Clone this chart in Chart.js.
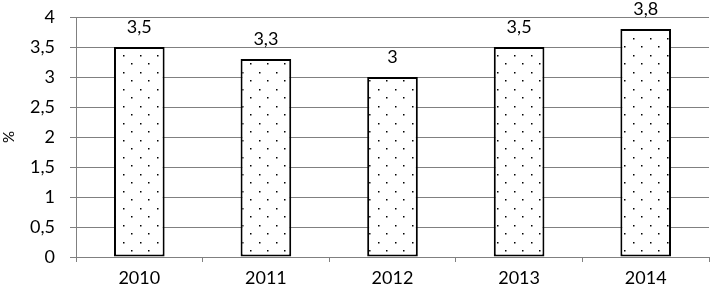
<!DOCTYPE html>
<html>
<head>
<meta charset="utf-8">
<script src="https://cdn.jsdelivr.net/npm/chart.js@4"></script>
<style>
  html, body { margin: 0; padding: 0; background: #fff; }
  #wrap { width: 711px; height: 292px; }
</style>
</head>
<body>
<div id="wrap"><canvas id="myChart"></canvas></div>
<script>
const years = ['2010', '2011', '2012', '2013', '2014'];
const values = [3.5, 3.3, 3.0, 3.5, 3.8];
const yTicks = [0, 0.5, 1, 1.5, 2, 2.5, 3, 3.5, 4];

const fmt = (v) => String(v).replace('.', ',');
const fontFam = 'Lato, "Open Sans", sans-serif';

// dotted fill like the original
const makeDots = () => {
    let c = document.createElement('canvas');
    c.width = 17;
    c.height = 17;
    let ctx = c.getContext('2d');
    ctx.fillStyle = '#fff';
    ctx.fillRect(0, 0, 17, 17);
    ctx.fillStyle = '#000';
    ctx.fillRect(4, 4, 1.5, 1.5);
    ctx.fillRect(12, 12, 1.5, 1.5);
    return ctx.createPattern(c, 'repeat');
}

const labelPlugin = {
    id: 'barLabels',
    afterDatasetsDraw(chart) {
        let ctx = chart.ctx;
        let meta = chart.getDatasetMeta(0);
        ctx.save();
        ctx.font = '18px ' + fontFam;
        ctx.fillStyle = '#000';
        ctx.textAlign = 'center';
        ctx.textBaseline = 'alphabetic';
        meta.data.forEach((bar, i) => {
            ctx.fillText(fmt(values[i]), bar.x, bar.y - 14);
        });
        ctx.restore();
    }
};

document.addEventListener("DOMContentLoaded", function () {
    let canvas = document.getElementById('myChart');
    new Chart(canvas, {
        type: 'bar',
        data: {
            labels: years,
            datasets: [{
                data: values,
                backgroundColor: makeDots(),
                borderColor: '#000',
                borderWidth: 2,
                borderSkipped: false,
                barPercentage: 0.4,
                categoryPercentage: 1.0
            }]
        },
        options: {
            responsive: true,
            maintainAspectRatio: false,
            animation: false,
            layout: { padding: { top: 17, right: 2, left: 0, bottom: 0 } },
            plugins: {
                legend: { display: false },
                tooltip: { enabled: false }
            },
            scales: {
                x: {
                    grid: {
                        drawOnChartArea: false,
                        drawTicks: true,
                        tickLength: 5,
                        color: '#808080'
                    },
                    border: { color: '#808080', width: 1 },
                    ticks: {
                        color: '#000',
                        font: { family: fontFam, size: 18 },
                        padding: 5
                    },
                    afterFit: (s) => { s.height = 35; }
                },
                y: {
                    min: 0,
                    max: 4,
                    afterBuildTicks: (s) => { s.ticks = yTicks.map(v => ({ value: v })); },
                    grid: {
                        color: '#808080',
                        tickLength: 6
                    },
                    border: { color: '#808080', width: 1 },
                    ticks: {
                        color: '#000',
                        font: { family: fontFam, size: 18 },
                        padding: 15,
                        callback: (v) => fmt(v)
                    },
                    title: {
                        display: true,
                        text: '%',
                        color: '#000',
                        font: { family: fontFam, size: 15 },
                        padding: 0
                    },
                    afterFit: (s) => {
                        s.width = 76;
                        s.paddingTop = 0;
                        s.paddingBottom = 0;
                    }
                }
            }
        },
        plugins: [labelPlugin]
    });
});
</script>
</body>
</html>
